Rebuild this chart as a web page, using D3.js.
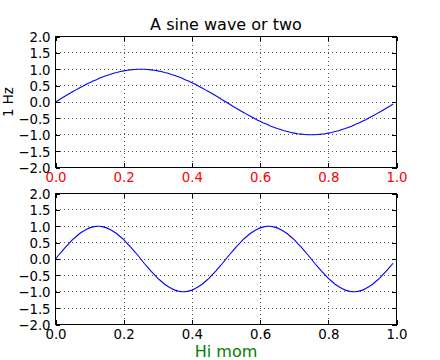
<!DOCTYPE html>
<html>
<head>
<meta charset="utf-8">
<script src="https://cdn.jsdelivr.net/npm/d3@7"></script>
<style>
  html, body { margin: 0; padding: 0; background: #fff; }
  svg { display: block; font-family: "DejaVu Sans", sans-serif; }
</style>
</head>
<body>
<svg id="chart" width="440" height="360"></svg>
<script>
const time = [0,0.01,0.02,0.03,0.04,0.05,0.06,0.07,0.08,0.09,
  0.10,0.11,0.12,0.13,0.14,0.15,0.16,0.17,0.18,0.19,
  0.20,0.21,0.22,0.23,0.24,0.25,0.26,0.27,0.28,0.29,
  0.30,0.31,0.32,0.33,0.34,0.35,0.36,0.37,0.38,0.39,
  0.40,0.41,0.42,0.43,0.44,0.45,0.46,0.47,0.48,0.49,
  0.50,0.51,0.52,0.53,0.54,0.55,0.56,0.57,0.58,0.59,
  0.60,0.61,0.62,0.63,0.64,0.65,0.66,0.67,0.68,0.69,
  0.70,0.71,0.72,0.73,0.74,0.75,0.76,0.77,0.78,0.79,
  0.80,0.81,0.82,0.83,0.84,0.85,0.86,0.87,0.88,0.89,
  0.90,0.91,0.92,0.93,0.94,0.95,0.96,0.97,0.98,0.99];

const wave1Hz = [0,0.06,0.13,0.19,0.25,0.31,0.37,0.43,0.48,0.54,
  0.59,0.64,0.68,0.73,0.77,0.81,0.84,0.88,0.90,0.93,
  0.95,0.97,0.98,0.99,1.00,1.00,1.00,0.99,0.98,0.97,
  0.95,0.93,0.90,0.88,0.84,0.81,0.77,0.73,0.68,0.64,
  0.59,0.54,0.48,0.43,0.37,0.31,0.25,0.19,0.13,0.06,
  0,-0.06,-0.13,-0.19,-0.25,-0.31,-0.37,-0.43,-0.48,-0.54,
  -0.59,-0.64,-0.68,-0.73,-0.77,-0.81,-0.84,-0.88,-0.90,-0.93,
  -0.95,-0.97,-0.98,-0.99,-1.00,-1.00,-1.00,-0.99,-0.98,-0.97,
  -0.95,-0.93,-0.90,-0.88,-0.84,-0.81,-0.77,-0.73,-0.68,-0.64,
  -0.59,-0.54,-0.48,-0.43,-0.37,-0.31,-0.25,-0.19,-0.13,-0.06];

const wave2Hz = [0,0.13,0.25,0.37,0.48,0.59,0.68,0.77,0.84,0.90,
  0.95,0.98,1.00,1.00,0.98,0.95,0.90,0.84,0.77,0.68,
  0.59,0.48,0.37,0.25,0.13,0,-0.13,-0.25,-0.37,-0.48,
  -0.59,-0.68,-0.77,-0.84,-0.90,-0.95,-0.98,-1.00,-1.00,-0.98,
  -0.95,-0.90,-0.84,-0.77,-0.68,-0.59,-0.48,-0.37,-0.25,-0.13,
  0,0.13,0.25,0.37,0.48,0.59,0.68,0.77,0.84,0.90,
  0.95,0.98,1.00,1.00,0.98,0.95,0.90,0.84,0.77,0.68,
  0.59,0.48,0.37,0.25,0.13,0,-0.13,-0.25,-0.37,-0.48,
  -0.59,-0.68,-0.77,-0.84,-0.90,-0.95,-0.98,-1.00,-1.00,-0.98,
  -0.95,-0.90,-0.84,-0.77,-0.68,-0.59,-0.48,-0.37,-0.25,-0.13];

const xTicks = [0, 0.2, 0.4, 0.6, 0.8, 1.0];
const xTickLabels = ["0.0", "0.2", "0.4", "0.6", "0.8", "1.0"];
const yTicks = [-2, -1.5, -1, -0.5, 0, 0.5, 1, 1.5, 2];
const yTickLabels = ["\u22122.0", "\u22121.5", "\u22121.0", "\u22120.5", "0.0", "0.5", "1.0", "1.5", "2.0"];

const titleText = "A sine wave or two";
const topYLabel = "1 Hz";
const bottomXLabel = "Hi mom";

const svg = d3.select("#chart");
const left = 55.5, right = 396.5;
const panels = [
  { top: 36.5, bottom: 167.5, values: wave1Hz, xColor: "#ff0000" },
  { top: 193.5, bottom: 324.5, values: wave2Hz, xColor: "#000000" }
];
const tickLen = 4.4;
const fs = 13.33;

panels.forEach((p, pi) => {
  const x = d3.scaleLinear().domain([0, 1]).range([left, right]);
  const y = d3.scaleLinear().domain([-2, 2]).range([p.bottom, p.top]);
  const g = svg.append("g");
  const h = p.bottom - p.top, w = right - left;

  // grid
  const grid = g.append("g");
  grid.selectAll("line.vg").data(xTicks.filter(v => v > 0 && v < 1)).join("line")
    .attr("x1", d => Math.round(x(d)) + 0.5).attr("x2", d => Math.round(x(d)) + 0.5)
    .attr("y1", p.top).attr("y2", p.bottom)
    .attr("stroke", "#555").attr("stroke-width", 1).attr("stroke-dasharray", "1,3")
    .attr("shape-rendering", "crispEdges");
  grid.selectAll("line.hg").data(yTicks.filter(v => v > -2 && v < 2)).join("line")
    .attr("y1", d => Math.round(y(d) - 0.5) + 0.5).attr("y2", d => Math.round(y(d) - 0.5) + 0.5)
    .attr("x1", left).attr("x2", right)
    .attr("stroke", "#555").attr("stroke-width", 1).attr("stroke-dasharray", "1,3")
    .attr("shape-rendering", "crispEdges");

  // data line
  const line = d3.line().x((d, i) => x(time[i])).y(d => y(d));
  g.append("path").datum(p.values)
    .attr("d", line).attr("fill", "none")
    .attr("stroke", "#0000ff").attr("stroke-width", 1.1);

  // axes
  const axB = d3.axisBottom(x).tickValues(xTicks).tickSize(-tickLen).tickPadding(5)
    .tickFormat((d, i) => xTickLabels[i]);
  const gB = g.append("g").attr("transform", `translate(0,${p.bottom})`).call(axB);
  const axT = d3.axisTop(x).tickValues(xTicks).tickSize(-tickLen).tickFormat("");
  const gT = g.append("g").attr("transform", `translate(0,${p.top})`).call(axT);
  const axL = d3.axisLeft(y).tickValues(yTicks).tickSize(-tickLen).tickPadding(5)
    .tickFormat((d, i) => yTickLabels[i]);
  const gL = g.append("g").attr("transform", `translate(${left},0)`).call(axL);
  const axR = d3.axisRight(y).tickValues(yTicks).tickSize(-tickLen).tickFormat("");
  const gR = g.append("g").attr("transform", `translate(${right},0)`).call(axR);

  [gB, gT, gL, gR].forEach(a => {
    a.select(".domain").remove();
    a.selectAll(".tick line").attr("stroke", "#000").attr("shape-rendering", "crispEdges");
    a.selectAll("text").attr("font-family", "DejaVu Sans").attr("font-size", fs);
  });
  gB.selectAll("text").attr("fill", p.xColor).attr("dy", null).attr("y", 14.2);
  gL.selectAll("text").attr("fill", "#000").attr("dy", null).attr("y", 4.9).attr("x", -4.9);

  // frame
  g.append("rect").attr("x", left).attr("y", p.top).attr("width", w).attr("height", h)
    .attr("fill", "none").attr("stroke", "#000").attr("stroke-width", 1)
    .attr("shape-rendering", "crispEdges");
});

svg.append("text").attr("x", 226).attr("y", 29.5).attr("text-anchor", "middle")
  .attr("font-size", 16).attr("fill", "#000").text(titleText);

svg.append("text").attr("transform", "translate(12.5,102) rotate(-90)")
  .attr("text-anchor", "middle").attr("font-size", fs).attr("fill", "#000").text(topYLabel);

svg.append("text").attr("x", 226).attr("y", 357).attr("text-anchor", "middle")
  .attr("font-size", 16).attr("fill", "#008000").text(bottomXLabel);
</script>
</body>
</html>
